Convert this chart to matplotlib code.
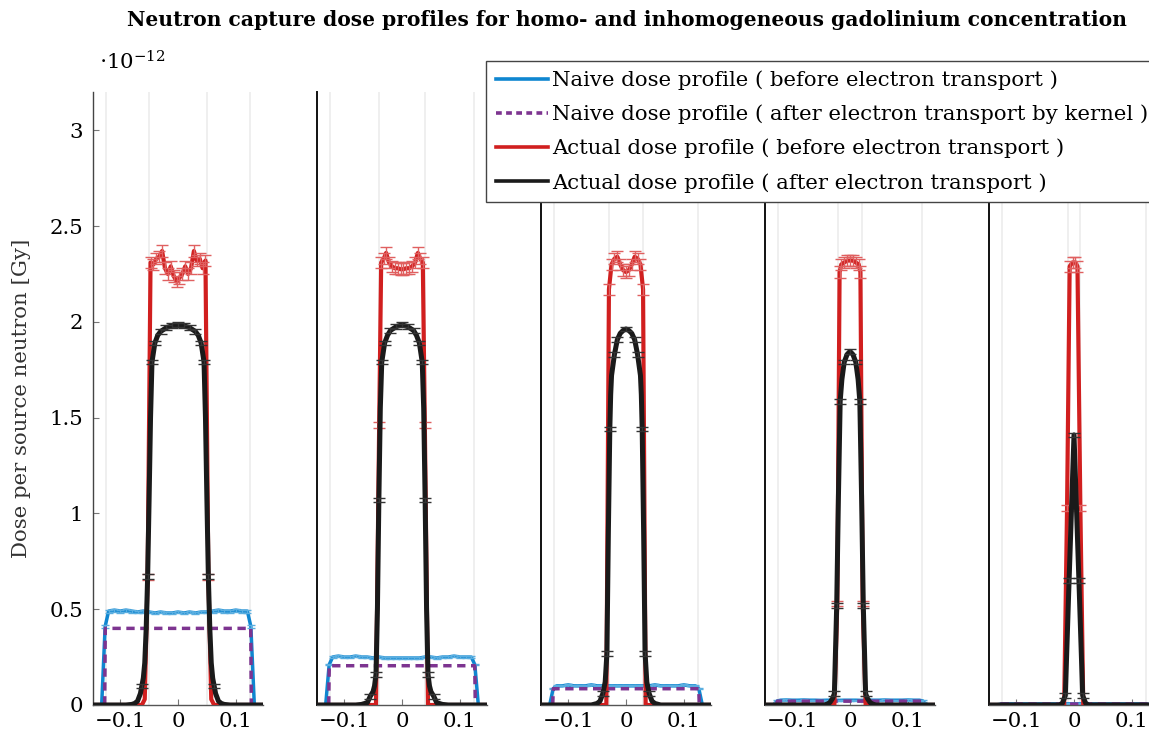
import numpy as np
import matplotlib
matplotlib.use("Agg")
import matplotlib.pyplot as plt
from matplotlib.lines import Line2D
from matplotlib.ticker import FuncFormatter

plt.rcParams['font.family'] = ['DejaVu Serif']
plt.rcParams['mathtext.fontset'] = 'dejavuserif'

# ---------------- data (dose in units of 1e-12 Gy per source neutron) ----------------
half_widths = [0.05, 0.04, 0.03, 0.02, 0.01]
region_edge = 0.125

blue_x = [-0.15, -0.132, -0.126] + list(np.round(np.linspace(-0.12, 0.12, 25), 4)) + [0.126, 0.132, 0.15]
p1_blue = [0, 0, 0.41, 0.49, 0.495, 0.49, 0.495, 0.49, 0.485, 0.49, 0.485, 0.48, 0.485, 0.48, 0.48, 0.485,
           0.48, 0.485, 0.48, 0.485, 0.485, 0.49, 0.495, 0.49, 0.49, 0.495, 0.49, 0.49, 0.41, 0, 0]
p2_blue = [0, 0, 0.21, 0.25, 0.255, 0.25, 0.25, 0.255, 0.25, 0.25, 0.245, 0.25, 0.245, 0.245, 0.245,
           0.245, 0.245, 0.245, 0.245, 0.25, 0.25, 0.245, 0.25, 0.25, 0.255, 0.25, 0.25, 0.25, 0.21, 0, 0]
p3_blue = [0, 0, 0.085, 0.10, 0.10, 0.105, 0.10, 0.10, 0.10, 0.105, 0.10, 0.10, 0.10, 0.10, 0.10, 0.10,
           0.10, 0.10, 0.10, 0.10, 0.105, 0.10, 0.10, 0.10, 0.10, 0.105, 0.10, 0.10, 0.085, 0, 0]
p4_blue = [0, 0, 0.021, 0.025, 0.026, 0.025, 0.025, 0.026, 0.025, 0.025, 0.024, 0.025, 0.025, 0.024,
           0.025, 0.025, 0.025, 0.024, 0.025, 0.025, 0.025, 0.026, 0.025, 0.025, 0.025, 0.026, 0.025,
           0.025, 0.021, 0, 0]
p5_blue = [0, 0, 0.005, 0.006, 0.006, 0.006, 0.006, 0.006, 0.006, 0.006, 0.006, 0.006, 0.006, 0.006,
           0.006, 0.006, 0.006, 0.006, 0.006, 0.006, 0.006, 0.006, 0.006, 0.006, 0.006, 0.006, 0.006,
           0.006, 0.005, 0, 0]
blue_levels = [p1_blue, p2_blue, p3_blue, p4_blue, p5_blue]

purple_x = [-0.15, -0.1268, -0.1258, 0.1258, 0.1268, 0.15]
purple_levels = [0.40, 0.205, 0.085, 0.02, 0.005]

p1_red_x = [-0.15, -0.0625, -0.0575, -0.0525, -0.0475, -0.0425, -0.0375, -0.0325, -0.0275, -0.0225,
            -0.0175, -0.0125, -0.0075, -0.0025, 0.0025, 0.0075, 0.0125, 0.0175, 0.0225, 0.0275, 0.0325,
            0.0375, 0.0425, 0.0475, 0.0525, 0.0575, 0.0625, 0.15]
p1_red_y = [0, 0, 0.03, 0.67, 2.31, 2.30, 2.33, 2.34, 2.37, 2.28, 2.25, 2.29, 2.24, 2.21, 2.23, 2.25,
            2.29, 2.25, 2.28, 2.37, 2.32, 2.33, 2.28, 2.32, 0.67, 0.03, 0, 0]
p2_red_x = [-0.15, -0.045, -0.0395, -0.036, -0.0315, -0.0275, -0.0225, -0.0175, -0.0125, -0.0075,
            -0.0025, 0.0025, 0.0075, 0.0125, 0.0175, 0.0225, 0.0275, 0.0315, 0.036, 0.0395, 0.045, 0.15]
p2_red_y = [0, 0, 1.46, 2.31, 2.33, 2.36, 2.31, 2.29, 2.28, 2.28, 2.275, 2.275, 2.28, 2.28, 2.29, 2.31,
            2.36, 2.33, 2.31, 1.46, 0, 0]
p3_red_x = [-0.15, -0.034, -0.0295, -0.025, -0.02, -0.015, -0.01, -0.005, 0.0, 0.005, 0.01, 0.015,
            0.02, 0.025, 0.0295, 0.034, 0.15]
p3_red_y = [0, 0, 2.17, 2.30, 2.33, 2.34, 2.30, 2.27, 2.26, 2.27, 2.30, 2.34, 2.33, 2.30, 2.17, 0, 0]
p4_red_x = [-0.15, -0.027, -0.022, -0.018, -0.015, -0.01, -0.005, 0.0, 0.005, 0.01, 0.015, 0.018,
            0.022, 0.027, 0.15]
p4_red_y = [0, 0, 0.53, 2.26, 2.30, 2.31, 2.32, 2.32, 2.32, 2.31, 2.30, 2.26, 0.53, 0, 0]
p5_red_x = [-0.15, -0.017, -0.012, -0.0075, -0.0025, 0.0025, 0.006, 0.011, 0.016, 0.15]
p5_red_y = [0, 0, 1.03, 2.29, 2.31, 2.31, 2.29, 1.03, 0, 0]
red_x = [p1_red_x, p2_red_x, p3_red_x, p4_red_x, p5_red_x]
red_y = [p1_red_y, p2_red_y, p3_red_y, p4_red_y, p5_red_y]

p1_black_x = [-0.15, -0.09, -0.08, -0.075, -0.07, -0.065, -0.0625, -0.06, -0.0575, -0.055, -0.0525,
              -0.05, -0.0475, -0.045, -0.04, -0.035, -0.03, -0.025, -0.02, -0.015, -0.01, -0.005, 0.0,
              0.005, 0.01, 0.015, 0.02, 0.025, 0.03, 0.035, 0.04, 0.045, 0.0475, 0.05, 0.0525, 0.055,
              0.0575, 0.06, 0.0625, 0.065, 0.07, 0.075, 0.08, 0.09, 0.15]
p1_black_y = [0, 0, 0.003, 0.008, 0.02, 0.06, 0.10, 0.14, 0.22, 0.40, 0.67, 1.07, 1.50, 1.79, 1.89,
              1.93, 1.95, 1.96, 1.97, 1.975, 1.98, 1.984, 1.985, 1.984, 1.98, 1.975, 1.97, 1.96, 1.95,
              1.93, 1.89, 1.79, 1.50, 1.07, 0.67, 0.40, 0.22, 0.14, 0.10, 0.06, 0.02, 0.008, 0.003, 0, 0]
p2_black_x = [-0.15, -0.08, -0.07, -0.06, -0.055, -0.05, -0.0475, -0.045, -0.0425, -0.04, -0.0375,
              -0.035, -0.03, -0.025, -0.02, -0.01, 0.0, 0.01, 0.02, 0.025, 0.03, 0.035, 0.0375, 0.04,
              0.0425, 0.045, 0.0475, 0.05, 0.055, 0.06, 0.07, 0.08, 0.15]
p2_black_y = [0, 0, 0.003, 0.012, 0.045, 0.07, 0.10, 0.16, 0.50, 1.07, 1.55, 1.79, 1.89, 1.93, 1.955,
              1.975, 1.985, 1.975, 1.955, 1.93, 1.89, 1.79, 1.55, 1.07, 0.50, 0.16, 0.10, 0.07, 0.045,
              0.012, 0.003, 0, 0]
p3_black_x = [-0.15, -0.06, -0.05, -0.045, -0.04, -0.036, -0.033, -0.0305, -0.028, -0.0265, -0.025,
              -0.02, -0.015, -0.01, -0.005, 0.0, 0.005, 0.01, 0.015, 0.02, 0.025, 0.0265, 0.028, 0.0305,
              0.033, 0.036, 0.04, 0.045, 0.05, 0.06, 0.15]
p3_black_y = [0, 0, 0.008, 0.02, 0.06, 0.12, 0.27, 0.90, 1.44, 1.62, 1.72, 1.83, 1.907, 1.94, 1.955,
              1.963, 1.955, 1.94, 1.907, 1.83, 1.72, 1.62, 1.44, 0.90, 0.27, 0.12, 0.06, 0.02, 0.008, 0, 0]
p4_black_x = [-0.15, -0.045, -0.04, -0.035, -0.03, -0.027, -0.023, -0.02, -0.017, -0.014, -0.01,
              -0.005, 0.0, 0.005, 0.01, 0.014, 0.017, 0.02, 0.023, 0.027, 0.03, 0.035, 0.04, 0.045, 0.15]
p4_black_y = [0, 0, 0.004, 0.012, 0.035, 0.06, 0.52, 1.09, 1.585, 1.70, 1.79, 1.83, 1.846, 1.83, 1.79,
              1.70, 1.585, 1.09, 0.52, 0.06, 0.035, 0.012, 0.004, 0, 0]
p5_black_x = [-0.15, -0.025, -0.02, -0.015, -0.0085, 0.0, 0.0085, 0.015, 0.02, 0.025, 0.15]
p5_black_y = [0, 0, 0.01, 0.05, 0.65, 1.41, 0.65, 0.05, 0.01, 0, 0]
black_x = [p1_black_x, p2_black_x, p3_black_x, p4_black_x, p5_black_x]
black_y = [p1_black_y, p2_black_y, p3_black_y, p4_black_y, p5_black_y]

# x positions of the black points that carry visible error bars
p1_black_errx = [-0.0625, -0.0525, -0.045, -0.04, -0.03, -0.02, -0.01, 0.0, 0.01, 0.02, 0.03, 0.04,
                 0.045, 0.0525, 0.0625]
p2_black_errx = [-0.055, -0.045, -0.04, -0.035, -0.03, -0.02, -0.01, 0.0, 0.01, 0.02, 0.03, 0.035,
                 0.04, 0.045, 0.055]
p3_black_errx = [-0.04, -0.033, -0.028, -0.02, -0.015, 0.0, 0.015, 0.02, 0.028, 0.033, 0.04]
p4_black_errx = [-0.027, -0.023, -0.017, -0.01, 0.0, 0.01, 0.017, 0.023, 0.027]
p5_black_errx = [-0.015, -0.0085, 0.0, 0.0085, 0.015]
black_errx = [p1_black_errx, p2_black_errx, p3_black_errx, p4_black_errx, p5_black_errx]

y_ticks = [0, 0.5, 1, 1.5, 2, 2.5, 3]
x_ticks = [-0.1, 0, 0.1]

legend_labels = ["Naive dose profile ( before electron transport )",
                 "Naive dose profile ( after electron transport by kernel )",
                 "Actual dose profile ( before electron transport )",
                 "Actual dose profile ( after electron transport )"]
title = "Neutron capture dose profiles for homo- and inhomogeneous gadolinium concentration"

# ---------------- styling ----------------
C_BLUE = '#0f86d0'
C_PURPLE = '#7d3490'
C_RED = '#d11f1f'
C_BLACK = '#1a1a1a'
FS = 15.3

W, H = 1149, 733
fig = plt.figure(figsize=(W / 100, H / 100), dpi=100)
lefts = [93, 317, 541, 765, 989]
ax_w, ax_bot, ax_h = 170, 28, 613


def draw_err(ax, x, y, e, color, cap, z):
    x = np.asarray(x, float); y = np.asarray(y, float); e = np.asarray(e, float)
    m = e > 0
    ax.errorbar(x[m], y[m], yerr=e[m], fmt='none', ecolor=color, elinewidth=1.0,
                capsize=cap, capthick=1.0, zorder=z)


for i in range(5):
    ax = fig.add_axes([lefts[i] / W, ax_bot / H, ax_w / W, ax_h / H])
    ax.set_xlim(-0.147, 0.147)
    ax.set_ylim(0, 3.2)
    w = half_widths[i]
    for gx in [-region_edge, -w, w, region_edge]:
        ax.axvline(gx, color='#ebebeb', lw=1.1, zorder=0)

    # naive before
    bx = np.asarray(blue_x, float)
    by = np.asarray(blue_levels[i], float)
    ax.plot(bx, by, color=C_BLUE, lw=2.5, zorder=2)
    be = np.where(by > 0.002, np.maximum(0.015 * by, 0.003), 0.0)
    draw_err(ax, bx, by, be, '#5aaee0', 3, 2.1)

    # naive after kernel
    pv = purple_levels[i]
    ax.plot(purple_x, [0, 0, pv, pv, 0, 0], color=C_PURPLE, lw=2.5, dashes=(2.4, 1.6), zorder=3)

    # actual before
    rx = np.asarray(red_x[i], float); ry = np.asarray(red_y[i], float)
    ax.plot(rx, ry, color=C_RED, lw=3.0, zorder=4)
    draw_err(ax, rx, ry, np.where(ry > 2.0, 0.03, np.where(ry > 0.1, 0.015, 0.0)),
             '#e06060', 4.5, 4.1)

    # actual after
    kx = np.asarray(black_x[i], float); ky = np.asarray(black_y[i], float)
    ax.plot(kx, ky, color=C_BLACK, lw=3.6, zorder=5)
    ke = np.where(np.isin(np.round(kx, 5), np.round(black_errx[i], 5)), 0.012, 0.0)
    draw_err(ax, kx, ky, ke, '#333333', 4, 5.1)

    for s in ['top', 'right']:
        ax.spines[s].set_visible(False)
    ax.spines['bottom'].set_color('#555555')
    ax.spines['bottom'].set_linewidth(1.0)
    ax.set_xticks(x_ticks)
    ax.xaxis.set_major_formatter(FuncFormatter(lambda v, p: ('%g' % v).replace('-', '\u2212')))
    ax.tick_params(axis='x', direction='in', length=4, color='#777777', labelsize=FS, pad=5)
    if i == 0:
        ax.spines['left'].set_color('#444444')
        ax.spines['left'].set_linewidth(1.0)
        ax.set_yticks(y_ticks)
        ax.yaxis.set_major_formatter(FuncFormatter(lambda v, p: '%g' % v))
        ax.tick_params(axis='y', direction='in', length=4, color='#777777', labelsize=FS, pad=7)
        ax.set_ylabel('Dose per source neutron [Gy]', fontsize=FS, color='#333333')
        ax.yaxis.set_label_coords(-0.365, 0.5)
    else:
        ax.spines['left'].set_color('#111111')
        ax.spines['left'].set_linewidth(1.4)
        ax.tick_params(axis='y', left=False, labelleft=False)

fig.text(99 / W, 1 - 62 / H, r'$\cdot 10^{-12}$', fontsize=FS, ha='left', va='center')
fig.text(627 / W, 1 - 20 / H, title, fontsize=14.6, fontweight='bold', ha='center', va='center')

handles = [Line2D([], [], color=C_BLUE, lw=2.6),
           Line2D([], [], color=C_PURPLE, lw=2.6, dashes=(1.6, 1.2)),
           Line2D([], [], color=C_RED, lw=2.6),
           Line2D([], [], color=C_BLACK, lw=2.6)]
leg = fig.legend(handles, legend_labels, loc='upper left', bbox_to_anchor=(486 / W, 1 - 61 / H),
                 bbox_transform=fig.transFigure, fontsize=FS, frameon=True, fancybox=False,
                 edgecolor='#444444', framealpha=1, handlelength=2.45, handletextpad=0.2,
                 borderpad=0.45, labelspacing=0.68, borderaxespad=0)
leg.get_frame().set_linewidth(1.0)

fig.savefig('out.png', dpi=100)
